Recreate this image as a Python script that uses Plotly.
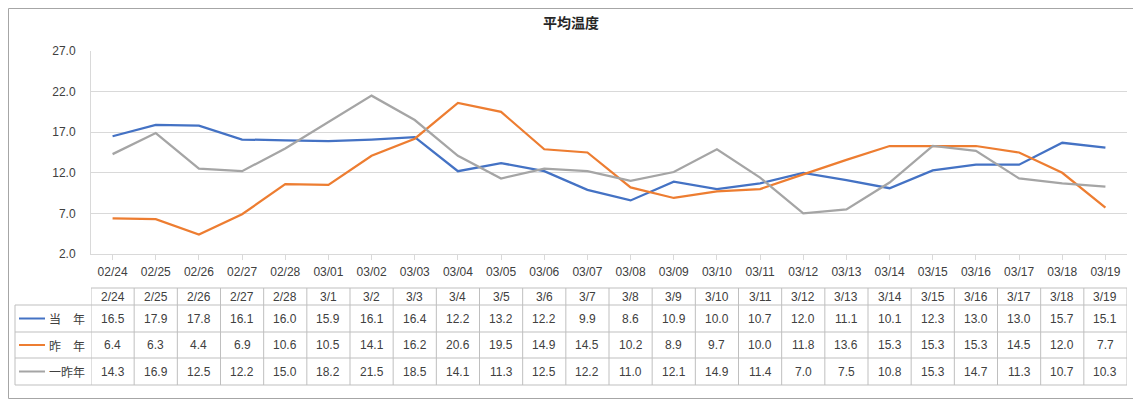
import plotly.graph_objects as go

categories = ["02/24","02/25","02/26","02/27","02/28","03/01","03/02","03/03","03/04","03/05","03/06","03/07",
              "03/08","03/09","03/10","03/11","03/12","03/13","03/14","03/15","03/16","03/17","03/18","03/19"]
table_headers = ["2/24","2/25","2/26","2/27","2/28","3/1","3/2","3/3","3/4","3/5","3/6","3/7",
                 "3/8","3/9","3/10","3/11","3/12","3/13","3/14","3/15","3/16","3/17","3/18","3/19"]
this_year = [16.5,17.9,17.8,16.1,16.0,15.9,16.1,16.4,12.2,13.2,12.2,9.9,8.6,10.9,10.0,10.7,12.0,11.1,10.1,12.3,13.0,13.0,15.7,15.1]
last_year = [6.4,6.3,4.4,6.9,10.6,10.5,14.1,16.2,20.6,19.5,14.9,14.5,10.2,8.9,9.7,10.0,11.8,13.6,15.3,15.3,15.3,14.5,12.0,7.7]
two_years_ago = [14.3,16.9,12.5,12.2,15.0,18.2,21.5,18.5,14.1,11.3,12.5,12.2,11.0,12.1,14.9,11.4,7.0,7.5,10.8,15.3,14.7,11.3,10.7,10.3]
series_names = ["当　年", "昨　年", "一昨年"]
series_colors = ["#4472C4", "#ED7D31", "#A5A5A5"]
y_ticks = [2.0, 7.0, 12.0, 17.0, 22.0, 27.0]
title_text = "平均温度"

OFF = 8  # page body margin
W, H = 1141 - OFF, 400 - OFF
L, R, T, B = 91 - OFF, 1127 - OFF, 51 - OFF, 254 - OFF
pw, ph = R - L, B - T

def px(x):
    return (x - OFF - L) / pw

def py(y):
    return (B - (y - OFF)) / ph

NUM_FONT = "Liberation Sans, Arial, sans-serif"
CJK_FONT = "Noto Sans CJK JP, sans-serif"
GRID = "#d9d9d9"
TAB = "#bfbfbf"

fig = go.Figure()
all_series = [this_year, last_year, two_years_ago]
for name, vals, col in zip(series_names, all_series, series_colors):
    fig.add_trace(go.Scatter(x=list(range(len(categories))), y=vals, mode="lines", name=name,
                             line=dict(color=col, width=2.25), showlegend=False, hoverinfo="x+y"))

shapes = []
annotations = []

# outer border
shapes.append(dict(type="rect", xref="paper", yref="paper", x0=px(OFF + 0.5), x1=px(1139.5), y0=py(OFF + 0.5), y1=py(398.5),
                   line=dict(color="#a6a6a6", width=1)))

# table geometry
row_lines = [288, 305, 332, 358, 385]
row_centers = [(row_lines[i] + row_lines[i + 1]) / 2 for i in range(4)]
n = len(categories)
for i, yl in enumerate(row_lines):
    x0 = 91 if i == 0 else 15
    shapes.append(dict(type="line", xref="paper", yref="paper", x0=px(x0), x1=px(1127), y0=py(yl), y1=py(yl),
                       line=dict(color=TAB, width=1)))
shapes.append(dict(type="line", xref="paper", yref="paper", x0=px(15), x1=px(15), y0=py(305), y1=py(385),
                   line=dict(color=TAB, width=1)))
for k in range(n + 1):
    shapes.append(dict(type="line", xref="x", yref="paper", x0=k - 0.5, x1=k - 0.5, y0=py(288), y1=py(385),
                       line=dict(color=TAB, width=1)))

for k, h in enumerate(table_headers):
    annotations.append(dict(x=k, y=py(row_centers[0]), xref="x", yref="paper", text=h, showarrow=False,
                            xanchor="center", yanchor="middle",
                            font=dict(family=NUM_FONT, size=12, color="#404040")))
for r, (name, vals, col) in enumerate(zip(series_names, all_series, series_colors)):
    yc = py(row_centers[r + 1])
    shapes.append(dict(type="line", xref="paper", yref="paper", x0=px(19), x1=px(45), y0=yc, y1=yc,
                       line=dict(color=col, width=2)))
    annotations.append(dict(x=px(87), y=yc, xref="paper", yref="paper", text=name, showarrow=False,
                            xanchor="right", yanchor="middle",
                            font=dict(family=CJK_FONT, size=12, color="#404040")))
    for k, v in enumerate(vals):
        annotations.append(dict(x=k, y=yc, xref="x", yref="paper", text=f"{v:.1f}", showarrow=False,
                                xanchor="center", yanchor="middle",
                                font=dict(family=NUM_FONT, size=12, color="#404040")))

fig.update_layout(
    width=W, height=H, autosize=False,
    margin=dict(l=L, r=W - R, t=T, b=H - B, pad=0),
    paper_bgcolor="white", plot_bgcolor="white",
    title=dict(text=f"<b>{title_text}</b>", x=(571 - OFF) / W, xanchor="center", y=1 - (23 - OFF) / H, yanchor="middle",
               font=dict(family=CJK_FONT, size=14, color="#262626")),
    xaxis=dict(range=[-0.5, n - 0.5], tickmode="array", tickvals=list(range(n)), ticktext=categories,
               ticks="outside", tickson="boundaries", ticklen=5, tickcolor=GRID, showline=True,
               linecolor=GRID, showgrid=False, zeroline=False, ticklabelstandoff=2,
               tickfont=dict(family=NUM_FONT, size=12, color="#404040")),
    yaxis=dict(range=[2, 27], tickmode="array", tickvals=y_ticks, ticktext=[f"{t:.1f}" for t in y_ticks],
               showgrid=True, gridcolor=GRID, showline=True, linecolor=GRID, zeroline=False,
               ticks="", ticklabelstandoff=12, tickfont=dict(family=NUM_FONT, size=12, color="#404040")),
    shapes=shapes, annotations=annotations, showlegend=False,
)

fig.write_html("out.html")
